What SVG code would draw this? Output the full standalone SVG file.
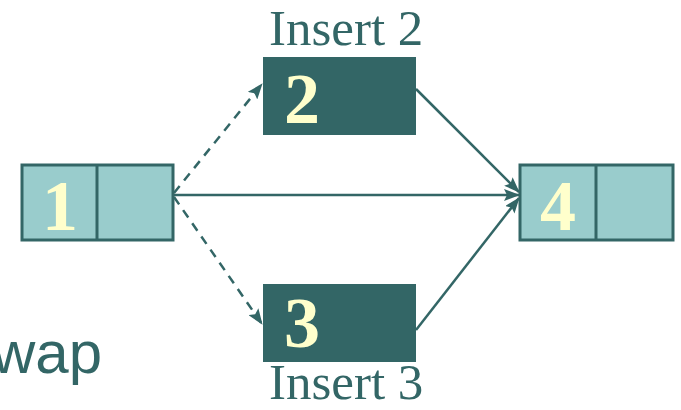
<svg xmlns="http://www.w3.org/2000/svg" width="681" height="410" viewBox="0 0 681 410">
<style>
.light{fill:#99CCCC;stroke:#336666;stroke-width:3}
.dark{fill:#336666}
.div{stroke:#336666;stroke-width:3}
.num{font-family:"Liberation Serif",serif;font-weight:bold;font-size:72px;fill:#FFFFCC;text-anchor:middle}
.lbl{font-family:"Liberation Serif",serif;font-size:51px;fill:#336666}
.conn{stroke:#336666;stroke-width:2.5;fill:none}
.dash{stroke-dasharray:9,7}
</style>
<defs>
<marker id="ah" viewBox="0 0 16 12" refX="15" refY="6" markerWidth="16" markerHeight="12" markerUnits="userSpaceOnUse" orient="auto">
<path d="M0,0 L16,6 L0,12 L3,6 z" fill="#336666"/>
</marker>
</defs>
<text x="-8" y="373" font-family="Liberation Sans, Arial, sans-serif" font-size="60" fill="#336666">wap</text>
<g id="connectors">
<line class="conn" x1="174" y1="195" x2="519" y2="195" marker-end="url(#ah)"/>
<line class="conn dash" x1="174" y1="193" x2="262" y2="84" marker-end="url(#ah)"/>
<line class="conn dash" x1="174" y1="197" x2="262" y2="324" marker-end="url(#ah)"/>
<line class="conn" x1="416" y1="89" x2="519" y2="192" marker-end="url(#ah)"/>
<line class="conn" x1="416" y1="330" x2="519" y2="198" marker-end="url(#ah)"/>
</g>
<g id="node1">
<rect class="light" x="22" y="165" width="151" height="75"/>
<line class="div" x1="97" y1="165" x2="97" y2="240"/>
<text class="num" x="60" y="230">1</text>
</g>
<g id="node2">
<rect class="dark" x="263" y="57" width="153" height="78"/>
<text class="num" x="302" y="123">2</text>
<text class="lbl" x="269" y="45">Insert 2</text>
</g>
<g id="node3">
<rect class="dark" x="263" y="284" width="153" height="78"/>
<text class="num" x="302" y="347">3</text>
<text class="lbl" x="269" y="399">Insert 3</text>
</g>
<g id="node4">
<rect class="light" x="520" y="165" width="153" height="75"/>
<line class="div" x1="596" y1="165" x2="596" y2="240"/>
<text class="num" x="558" y="230">4</text>
</g>
</svg>
